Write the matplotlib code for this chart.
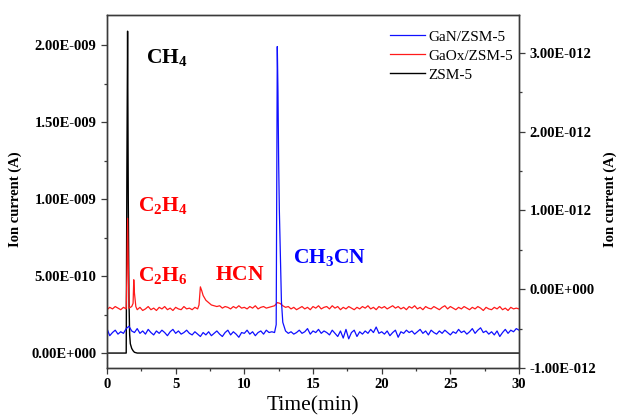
import numpy as np
import matplotlib
matplotlib.use("Agg")
import matplotlib.pyplot as plt
from matplotlib.ticker import FuncFormatter, FixedLocator, NullFormatter

plt.rcParams['font.family'] = ['Liberation Serif', 'DejaVu Serif']
plt.rcParams['mathtext.fontset'] = 'custom'
plt.rcParams['mathtext.rm'] = 'Liberation Serif'
plt.rcParams['mathtext.bf'] = 'Liberation Serif:bold'

# ---------------- data ----------------
# regular sampling grid (min) for the two noisy traces
t_grid = np.round(np.arange(0, 30.001, 0.2), 2)

# GaN/ZSM-5 (right axis, units 1e-12 A)
gan_grid = [
    -0.50, -0.59, -0.55, -0.52, -0.57, -0.54, -0.56, -0.50, -0.47, -0.53,
    -0.55, -0.50, -0.56, -0.53, -0.57, -0.51, -0.55, -0.58, -0.53, -0.56,
    -0.52, -0.55, -0.59, -0.54, -0.51, -0.56, -0.53, -0.57, -0.55, -0.52,
    -0.56, -0.58, -0.54, -0.57, -0.60, -0.55, -0.58, -0.54, -0.59, -0.56,
    -0.53, -0.57, -0.60, -0.55, -0.52, -0.58, -0.54, -0.57, -0.61, -0.55,
    -0.56, -0.52, -0.57, -0.54, -0.59, -0.55, -0.53, -0.57, -0.52, -0.55,
    -0.54, -0.55, 3.08, 0.60, -0.42, -0.53, -0.56, -0.54, -0.57, -0.55,
    -0.52, -0.56, -0.54, -0.50, -0.57, -0.53, -0.55, -0.51, -0.56, -0.53,
    -0.55, -0.58, -0.52, -0.56, -0.60, -0.53, -0.62, -0.51, -0.63, -0.55,
    -0.52, -0.60, -0.54, -0.57, -0.53, -0.56, -0.51, -0.55, -0.48, -0.56,
    -0.54, -0.57, -0.53, -0.59, -0.55, -0.52, -0.61, -0.54, -0.56, -0.52,
    -0.55, -0.53, -0.57, -0.54, -0.51, -0.56, -0.53, -0.58, -0.52, -0.55,
    -0.57, -0.53, -0.56, -0.52, -0.55, -0.58, -0.54, -0.56, -0.51, -0.55,
    -0.53, -0.57, -0.54, -0.50, -0.56, -0.52, -0.49, -0.55, -0.53, -0.57,
    -0.54, -0.58, -0.53, -0.60, -0.55, -0.51, -0.56, -0.52, -0.54, -0.50,
    -0.52,
]
# extra points resolving the CH3CN peak
gan_peak_t = [12.32, 12.36, 12.45, 12.50, 12.55, 12.70]
gan_peak_v = [-0.45, 1.50, 2.50, 1.60, 1.00, -0.15]

# GaOx/ZSM-5 (right axis, units 1e-12 A)
gaox_grid = [
    -0.26, -0.23, -0.25, -0.22, -0.24, -0.26, -0.23, -0.25, -0.24, -0.22,
    -0.05, -0.26, -0.23, -0.27, -0.25, -0.22, -0.26, -0.24, -0.27, -0.23,
    -0.25, -0.22, -0.26, -0.24, -0.27, -0.23, -0.25, -0.26, -0.22, -0.25,
    -0.24, -0.26, -0.23, -0.25, 0.03, -0.08, -0.14, -0.17, -0.20, -0.21,
    -0.22, -0.21, -0.24, -0.22, -0.23, -0.25, -0.22, -0.24, -0.21, -0.24,
    -0.23, -0.25, -0.22, -0.24, -0.21, -0.25, -0.23, -0.22, -0.24, -0.23,
    -0.22, -0.21, -0.17, -0.18, -0.21, -0.23, -0.22, -0.25, -0.23, -0.26,
    -0.24, -0.22, -0.25, -0.23, -0.26, -0.22, -0.24, -0.21, -0.25, -0.23,
    -0.22, -0.25, -0.21, -0.24, -0.22, -0.26, -0.23, -0.25, -0.22, -0.24,
    -0.26, -0.23, -0.25, -0.22, -0.24, -0.21, -0.25, -0.23, -0.26, -0.22,
    -0.24, -0.22, -0.25, -0.23, -0.21, -0.24, -0.22, -0.25, -0.23, -0.26,
    -0.22, -0.24, -0.21, -0.25, -0.23, -0.26, -0.22, -0.24, -0.25, -0.22,
    -0.24, -0.26, -0.23, -0.21, -0.25, -0.22, -0.24, -0.26, -0.23, -0.25,
    -0.22, -0.24, -0.26, -0.23, -0.25, -0.22, -0.24, -0.27, -0.23, -0.25,
    -0.26, -0.23, -0.25, -0.22, -0.26, -0.24, -0.27, -0.23, -0.25, -0.24,
    -0.25,
]
# extra points resolving the C2H4, C2H6 and HCN peaks
gaox_peak_t = [1.45, 1.50, 1.55, 1.90, 1.95, 2.10, 6.70, 6.90]
gaox_peak_v = [0.20, 0.90, 0.30, -0.18, 0.12, -0.22, -0.20, -0.02]

# ZSM-5 (left axis, units 1e-9 A)
zsm_t = [0.0, 1.40, 1.45, 1.50, 1.55, 1.60, 1.65, 1.70, 1.80, 1.90, 2.00, 2.20, 30.0]
zsm_v = [0.0, 0.0, 1.20, 2.09, 1.00, 0.35, 0.12, 0.06, 0.03, 0.015, 0.005, 0.0, 0.0]

labels = ["GaN/ZSM-5", "GaOx/ZSM-5", "ZSM-5"]
colors = ["#1010ff", "#ff1a1a", "#000000"]

# tick values
x_ticks = [0, 5, 10, 15, 20, 25, 30]
x_minor = [2.5, 7.5, 12.5, 17.5, 22.5, 27.5]
left_ticks = [0.0, 0.5e-9, 1.0e-9, 1.5e-9, 2.0e-9]
left_minor = [0.25e-9, 0.75e-9, 1.25e-9, 1.75e-9]
right_ticks = [-1e-12, 0.0, 1e-12, 2e-12, 3e-12]
right_minor = [-0.5e-12, 0.5e-12, 1.5e-12, 2.5e-12]


def merge(tg, vg, tp, vp):
    t = np.concatenate([tg, tp])
    v = np.concatenate([vg, vp])
    o = np.argsort(t, kind="stable")
    return t[o], v[o]


def sci_fmt(v, pos=None):
    if abs(v) < 1e-30:
        return "0.00E+000"
    e = int(np.floor(np.log10(abs(v)) + 1e-9))
    m = v / 10.0 ** e
    sign = "+" if e >= 0 else "-"
    return f"{m:.2f}E{sign}{abs(e):03d}"


# ---------------- figure ----------------
fig = plt.figure(figsize=(6.17, 4.17), dpi=100)
ax = fig.add_axes([0.1734, 0.1175, 0.8412 - 0.1734, 0.964 - 0.1175])
ax2 = ax.twinx()

l3, = ax.plot(np.array(zsm_t), np.array(zsm_v) * 1e-9, color=colors[2], lw=1.0)
tg, vg = merge(t_grid, np.array(gaox_grid), np.array(gaox_peak_t), np.array(gaox_peak_v))
l2, = ax2.plot(tg, vg * 1e-12, color=colors[1], lw=0.9)
tb, vb = merge(t_grid, np.array(gan_grid), np.array(gan_peak_t), np.array(gan_peak_v))
l1, = ax2.plot(tb, vb * 1e-12, color=colors[0], lw=0.9)

ax.set_xlim(0, 30)
ax.set_ylim(-0.097e-9, 2.195e-9)
ax2.set_ylim(-1.0e-12, 3.48e-12)

ax.xaxis.set_major_locator(FixedLocator(x_ticks))
ax.xaxis.set_minor_locator(FixedLocator(x_minor))
ax.yaxis.set_major_locator(FixedLocator(left_ticks))
ax.yaxis.set_minor_locator(FixedLocator(left_minor))
ax2.yaxis.set_major_locator(FixedLocator(right_ticks))
ax2.yaxis.set_minor_locator(FixedLocator(right_minor))
ax.yaxis.set_major_formatter(FuncFormatter(sci_fmt))
ax2.yaxis.set_major_formatter(FuncFormatter(sci_fmt))
for a in (ax, ax2):
    a.xaxis.set_minor_formatter(NullFormatter())
    a.yaxis.set_minor_formatter(NullFormatter())

spine_c = "#3a3a3a"
for a in (ax, ax2):
    for s in a.spines.values():
        s.set_color(spine_c)
        s.set_linewidth(1.0)
    a.tick_params(which="both", direction="out", color=spine_c, width=0.9)
    a.tick_params(which="major", length=4)
    a.tick_params(which="minor", length=2.5)
    for lab in a.get_xticklabels() + a.get_yticklabels():
        lab.set_fontweight("bold")
        lab.set_fontsize(10.5)

ax.tick_params(axis="x", pad=3)
ax.set_xlabel("Time(min)", fontsize=15.5)
ax.xaxis.set_label_coords(0.5, -0.08)
ax.set_ylabel("Ion current (A)", fontsize=10.5, fontweight="bold")
ax.yaxis.set_label_coords(-0.206, 0.478)
ax2.set_ylabel("Ion current (A)", fontsize=10.5, fontweight="bold")
ax2.yaxis.set_label_coords(1.204, 0.478)

# peak annotations
fs = 15.5
ax.text(2.84, 1.92e-9, r"$\mathbf{CH_4}$", color="black", fontsize=fs, va="center")
ax.text(2.26, 0.96e-9, r"$\mathbf{C_2H_4}$", color="red", fontsize=fs, va="center")
ax.text(2.26, 0.506e-9, r"$\mathbf{C_2H_6}$", color="red", fontsize=fs, va="center")
ax.text(7.87, 0.506e-9, r"$\mathbf{HCN}$", color="red", fontsize=fs, va="center")
ax.text(13.55, 0.62e-9, r"$\mathbf{CH_3CN}$", color="blue", fontsize=fs, va="center")

leg = ax2.legend([l1, l2, l3], labels, loc="upper right", bbox_to_anchor=(1.0, 0.975),
                 frameon=False, fontsize=11, handlelength=2.3, handletextpad=0.2,
                 labelspacing=0.35, borderaxespad=0.0)

fig.savefig("out.png", dpi=100)
